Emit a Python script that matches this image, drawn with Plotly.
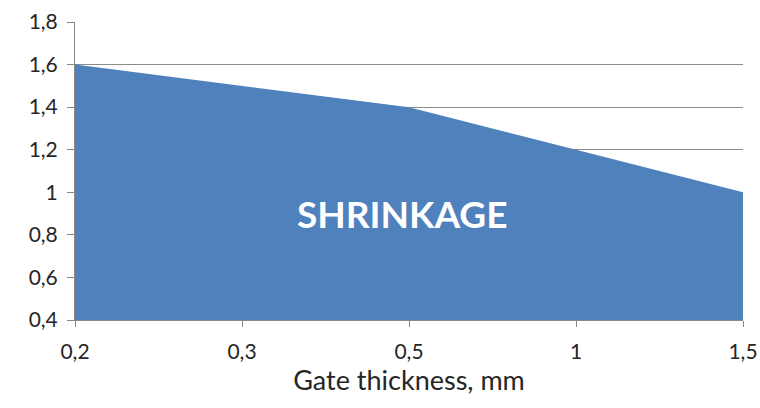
import plotly.graph_objects as go

# Gate thickness categories (mm) and corresponding shrinkage values
thickness_labels = ["0,2", "0,3", "0,5", "1", "1,5"]
shrinkage = [1.6, 1.5, 1.4, 1.2, 1.0]
y_ticks = [0.4, 0.6, 0.8, 1.0, 1.2, 1.4, 1.6, 1.8]
y_tick_labels = ["0,4", "0,6", "0,8", "1", "1,2", "1,4", "1,6", "1,8"]

x_pos = list(range(len(thickness_labels)))

fig = go.Figure()
fig.add_trace(go.Scatter(
    x=x_pos,
    y=shrinkage,
    mode="lines",
    line=dict(width=0, color="#4F81BD"),
    fill="tozeroy",
    fillcolor="#4F81BD",
    hoverinfo="skip",
    showlegend=False,
))

fig.add_annotation(
    x=1.96, y=0.9, xref="x", yref="y",
    text="<b>SHRINKAGE</b>",
    showarrow=False,
    font=dict(family="Lato, Open Sans, sans-serif", size=37, color="white"),
)

fig.update_layout(
    width=760, height=408,
    margin=dict(l=75, r=17, t=22, b=88),
    paper_bgcolor="white",
    plot_bgcolor="white",
    font=dict(family="Lato, Open Sans, sans-serif", size=21, color="#262626"),
    xaxis=dict(
        range=[0, len(thickness_labels) - 1],
        automargin=False,
        tickmode="array",
        tickvals=x_pos,
        ticktext=thickness_labels,
        showgrid=False,
        zeroline=False,
        showline=True,
        linecolor="#888888",
        linewidth=1,
        ticks="outside",
        ticklen=6,
        tickcolor="#888888",
        tickfont=dict(size=21),
        ticklabelstandoff=7,
        title=dict(text="Gate thickness, mm", font=dict(size=27), standoff=8),
    ),
    yaxis=dict(
        range=[0.4, 1.8],
        automargin=False,
        tickmode="array",
        tickvals=y_ticks,
        ticktext=y_tick_labels,
        showgrid=True,
        gridcolor="#8c8c8c",
        gridwidth=1,
        zeroline=False,
        showline=True,
        linecolor="#888888",
        linewidth=1,
        ticks="outside",
        ticklen=7,
        tickcolor="#888888",
        tickfont=dict(size=21),
        ticklabelstandoff=5,
    ),
)

fig.write_html("out.html")
